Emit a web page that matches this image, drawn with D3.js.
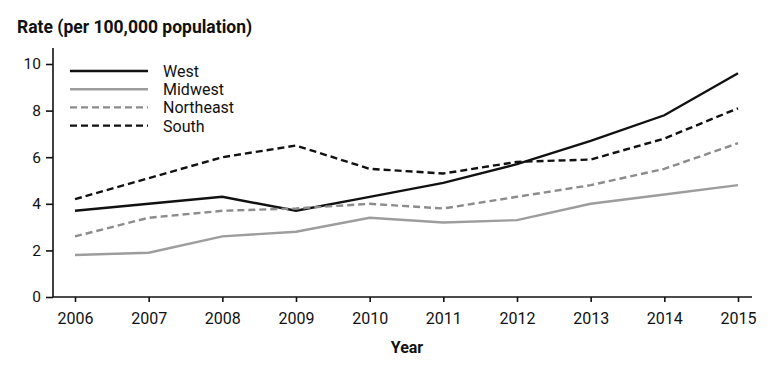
<!DOCTYPE html>
<html>
<head>
<meta charset="utf-8">
<script src="https://cdn.jsdelivr.net/npm/d3@7"></script>
<style>
  body { margin: 0; background: #fff; }
  text { font-family: Roboto, "Noto Sans", sans-serif; fill: #111; }
  .axis path, .axis line { stroke: #111; stroke-width: 1.6; }
</style>
</head>
<body>
<script>
var years = [2006, 2007, 2008, 2009, 2010, 2011, 2012, 2013, 2014, 2015];
var west      = [3.7, 4.0, 4.3, 3.7, 4.3, 4.9, 5.7, 6.7, 7.8, 9.6];
var midwest   = [1.8, 1.9, 2.6, 2.8, 3.4, 3.2, 3.3, 4.0, 4.4, 4.8];
var northeast = [2.6, 3.4, 3.7, 3.8, 4.0, 3.8, 4.3, 4.8, 5.5, 6.6];
var south     = [4.2, 5.1, 6.0, 6.5, 5.5, 5.3, 5.8, 5.9, 6.8, 8.1];
var yTicks = [0, 2, 4, 6, 8, 10];

var series = [
  {name: "West", values: west, color: "#111", dash: null},
  {name: "Midwest", values: midwest, color: "#9d9d9d", dash: null},
  {name: "Northeast", values: northeast, color: "#8c8c8c", dash: "7,4"},
  {name: "South", values: south, color: "#111", dash: "7,4"}
];

var svg = d3.select("body").append("svg").attr("width", 780).attr("height", 372);

var x = d3.scaleLinear().domain([2006, 2015]).range([75, 738]);
var y = d3.scaleLinear().domain([0, 10]).range([297, 64]);

// axes
var xAxis = svg.append("g").attr("class", "axis")
    .attr("transform", "translate(0,297)")
    .call(d3.axisBottom(x).tickValues(years).tickFormat(d3.format("d")).tickSize(5).tickSizeOuter(0).tickPadding(11));
xAxis.select(".domain").attr("d", "M53,0H752");
xAxis.selectAll("text").style("font-size", "16px");

var yAxis = svg.append("g").attr("class", "axis")
    .attr("transform", "translate(53,0)")
    .call(d3.axisLeft(y).tickValues(yTicks).tickSize(7).tickSizeOuter(0).tickPadding(5));
yAxis.select(".domain").attr("d", "M0,297V48");
yAxis.selectAll("text").style("font-size", "15.5px");

svg.append("text").attr("x", 17).attr("y", 33)
    .style("font-weight", "bold").style("font-size", "17.5px")
    .text("Rate (per 100,000 population)");

svg.append("text").attr("x", 407).attr("y", 353).attr("text-anchor", "middle")
    .style("font-weight", "bold").style("font-size", "16px")
    .text("Year");

// lines
var line = d3.line()
    .x(function(d, i) { return x(years[i]); })
    .y(function(d) { return y(d); });

svg.selectAll(".series").data(series).enter().append("path")
    .attr("class", "series")
    .attr("d", function(d) { return line(d.values); })
    .attr("fill", "none")
    .attr("stroke", function(d) { return d.color; })
    .attr("stroke-width", 2.4)
    .attr("stroke-dasharray", function(d) { return d.dash; });

// legend
var legend = svg.append("g");
var rows = legend.selectAll("g").data(series).enter().append("g")
    .attr("transform", function(d, i) { return "translate(0," + (71 + i * 18.2) + ")"; });
rows.append("line").attr("x1", 70).attr("x2", 148)
    .attr("stroke", function(d) { return d.color; })
    .attr("stroke-width", 2.4)
    .attr("stroke-dasharray", function(d) { return d.dash; });
rows.append("text").attr("x", 163).attr("y", 6)
    .style("font-size", "16px")
    .text(function(d) { return d.name; });
</script>
</body>
</html>
